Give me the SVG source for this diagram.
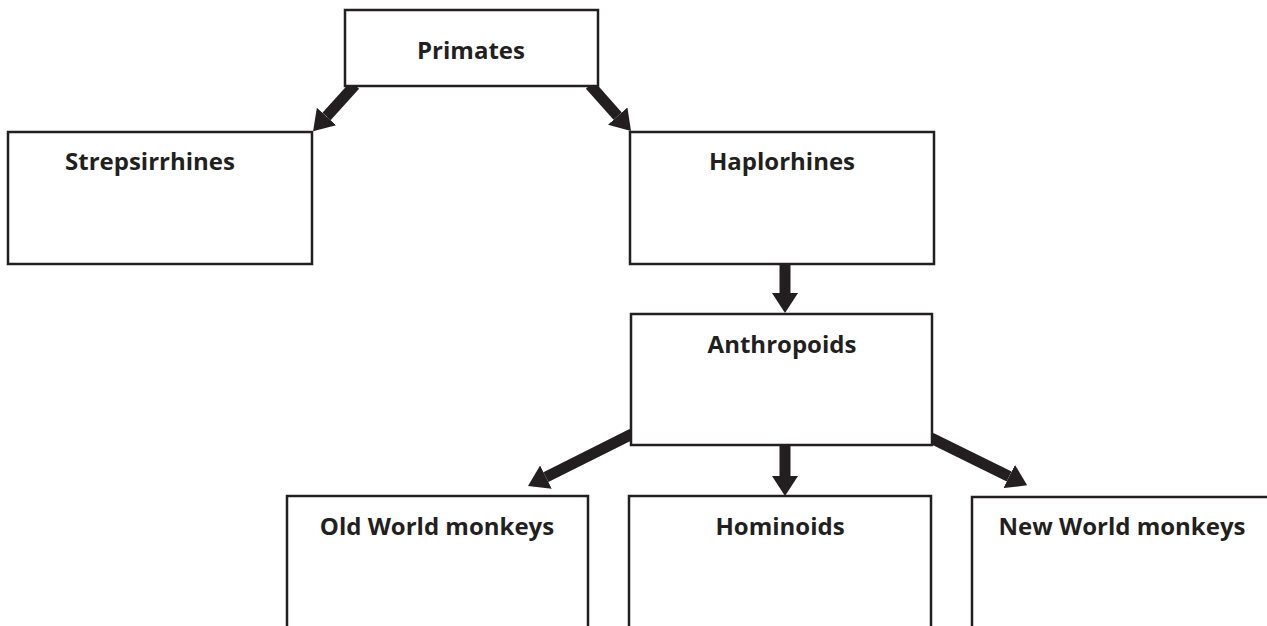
<svg xmlns="http://www.w3.org/2000/svg" width="1267" height="626" viewBox="0 0 1267 626">
<style>
.box{fill:#fff;stroke:#231f20;stroke-width:2.5}
.lbl{font-family:"Open Sans","Liberation Sans",sans-serif;font-weight:bold;font-size:24px;fill:#231f20;text-anchor:middle}
.arr{stroke:#231f20;stroke-width:11;fill:none}
</style>
<defs>
<marker id="ah" markerUnits="userSpaceOnUse" markerWidth="20" markerHeight="26" viewBox="0 0 20 26" refX="0" refY="13" orient="auto">
<path d="M0,0 L20,13 L0,26 Z" fill="#231f20"/>
</marker>
</defs>
<rect width="1267" height="626" fill="#fff"/>
<g id="connectors">
<line class="arr" x1="355" y1="85" x2="326.5" y2="116.5" marker-end="url(#ah)"/>
<line class="arr" x1="590" y1="85" x2="617.7" y2="116.1" marker-end="url(#ah)"/>
<line class="arr" x1="785" y1="264" x2="785" y2="293" marker-end="url(#ah)"/>
<line class="arr" x1="632" y1="434" x2="545.9" y2="477.1" marker-end="url(#ah)"/>
<line class="arr" x1="785" y1="445" x2="785" y2="476" marker-end="url(#ah)"/>
<line class="arr" x1="931" y1="438" x2="1009.2" y2="476.5" marker-end="url(#ah)"/>
</g>
<g id="primates"><rect class="box" x="345" y="10" width="253" height="76"/><text class="lbl" x="471" y="59">Primates</text></g>
<g id="strepsirrhines"><rect class="box" x="8" y="132" width="304" height="132"/><text class="lbl" x="150" y="170">Strepsirrhines</text></g>
<g id="haplorhines"><rect class="box" x="630" y="132" width="304" height="132"/><text class="lbl" x="782" y="170">Haplorhines</text></g>
<g id="anthropoids"><rect class="box" x="631" y="314" width="301" height="131"/><text class="lbl" x="782" y="353">Anthropoids</text></g>
<g id="oldworld"><path class="box" d="M287,630 V496 H588 V630"/><text class="lbl" x="437" y="535">Old World monkeys</text></g>
<g id="hominoids"><path class="box" d="M629,630 V496 H931 V630"/><text class="lbl" x="780" y="535">Hominoids</text></g>
<g id="newworld"><path class="box" d="M972,630 V497 H1280"/><text class="lbl" x="1122" y="535">New World monkeys</text></g>
</svg>
